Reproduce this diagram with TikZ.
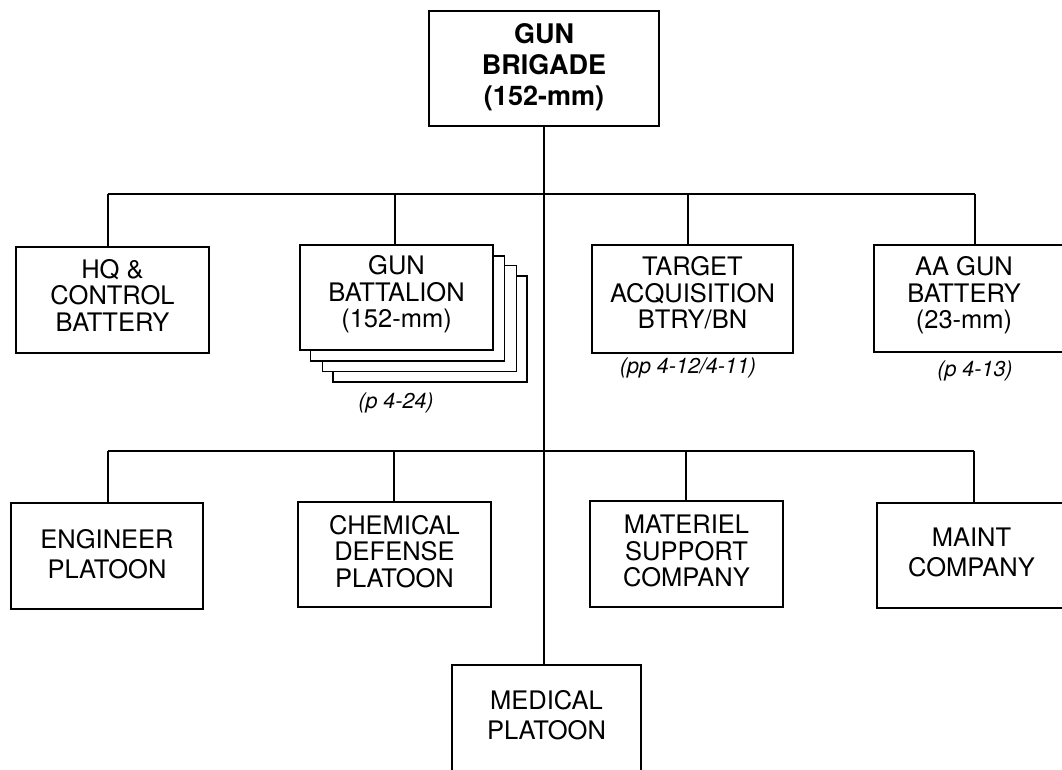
\documentclass[tikz,border=0pt]{standalone}
\usepackage{fontspec}
\setmainfont{TeX Gyre Heros}
\begin{document}
\begin{tikzpicture}[x=1pt,y=-1pt,
  line width=1.6pt,
  unitbox/.style={draw=black, fill=white, rectangle, inner sep=0pt},
  lbl/.style={inner sep=0pt, align=center, font=\fontsize{25.5}{26.5}\selectfont},
  lbltwo/.style={inner sep=0pt, align=center, font=\fontsize{25.5}{30.5}\selectfont},
  titlelbl/.style={inner sep=0pt, align=center, font=\fontsize{27}{31}\selectfont\bfseries},
  note/.style={inner sep=0pt, font=\fontsize{21.5}{23}\selectfont\itshape}
]
\useasboundingbox (0,0) rectangle (1062,769);
\fill[white] (0,0) rectangle (1062,769);
\clip (0,0) rectangle (1062,769);

% top
\node[unitbox, minimum width=230pt, minimum height=115pt] (top) at (544,68.5) {};
\node[titlelbl] (topt) at ([yshift=1pt]top.center) {GUN\\BRIGADE\\(152-mm)};

% first row
\node[unitbox, minimum width=193pt, minimum height=106pt] (hq) at (112.5,300) {};
\node[lbl] (hqt) at ([yshift=5pt]hq.center) {HQ \&\\CONTROL\\BATTERY};
\node[unitbox, minimum width=194pt, minimum height=106pt] (gb3) at (430,329) {};
\node[unitbox, minimum width=194pt, minimum height=106pt] (gb2) at (419.5,318.5) {};
\node[unitbox, minimum width=194pt, minimum height=105pt] (gb1) at (407.5,308.5) {};
\node[unitbox, minimum width=193pt, minimum height=105pt] (gb) at (396.5,297.5) {};
\node[lbl] (gbt) at ([yshift=3pt]gb.center) {GUN\\BATTALION\\(152-mm)};
\node[unitbox, minimum width=201pt, minimum height=108pt] (ta) at (692.5,299) {};
\node[lbl] (tat) at ([yshift=6pt]ta.center) {TARGET\\ACQUISITION\\BTRY/BN};
\node[unitbox, minimum width=192pt, minimum height=107pt] (aa) at (970,298.5) {};
\node[lbl] (aat) at ([xshift=-6pt,yshift=3pt]aa.center) {AA GUN\\BATTERY\\(23-mm)};

\node[note] (ngb) at (396,403) {(p 4-24)};
\node[note] (nta) at (688,368) {(pp 4-12/4-11)};
\node[note] (naa) at (975,371) {(p 4-13)};

% second row
\node[unitbox, minimum width=192pt, minimum height=106pt] (eng) at (107,556) {};
\node[lbltwo] (engt) at ([yshift=2pt]eng.center) {ENGINEER\\PLATOON};
\node[unitbox, minimum width=193pt, minimum height=105pt] (chem) at (394.5,554.5) {};
\node[lbl] (chemt) at ([yshift=3pt]chem.center) {CHEMICAL\\DEFENSE\\PLATOON};
\node[unitbox, minimum width=193pt, minimum height=106pt] (mat) at (686.5,554) {};
\node[lbl] (matt) at ([yshift=3pt]mat.center) {MATERIEL\\SUPPORT\\COMPANY};
\node[unitbox, minimum width=189pt, minimum height=105pt] (maint) at (971.5,555.5) {};
\node[lbltwo] (maintt) at ([yshift=3pt]maint.center) {MAINT\\COMPANY};

% medical
\node[unitbox, minimum width=189pt, minimum height=106pt] (med) at (546.5,718) {};
\node[lbltwo] (medt) at ([yshift=3pt]med.center) {MEDICAL\\PLATOON};

% junction coordinates
\coordinate (j1) at (108,194);
\coordinate (j2) at (395,194);
\coordinate (j3) at (688,194);
\coordinate (j4) at (975,194);
\coordinate (k1) at (108,451);
\coordinate (k2) at (394,451);
\coordinate (k3) at (686,451);
\coordinate (k4) at (974,451);

% connectors
\draw (top.south) -- (top.south |- med.north);
\draw (j1) -- (j4);
\draw (j1) -- (j1 |- hq.north);
\draw (j2) -- (j2 |- gb.north);
\draw (j3) -- (j3 |- ta.north);
\draw (j4) -- (j4 |- aa.north);
\draw (k1) -- (k4);
\draw (k1) -- (k1 |- eng.north);
\draw (k2) -- (k2 |- chem.north);
\draw (k3) -- (k3 |- mat.north);
\draw (k4) -- (k4 |- maint.north);
\end{tikzpicture}
\end{document}
